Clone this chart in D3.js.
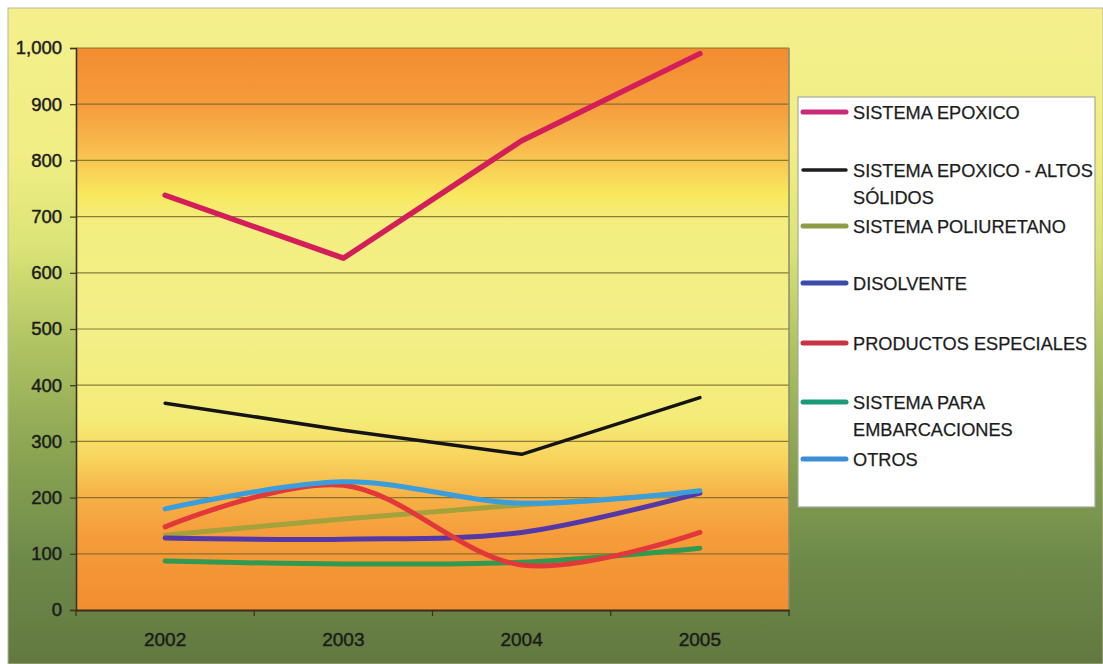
<!DOCTYPE html>
<html>
<head>
<meta charset="utf-8">
<script src="https://cdn.jsdelivr.net/npm/d3@7"></script>
<style>
  html, body { margin: 0; padding: 0; background: #ffffff; }
  svg { display: block; }
  text { font-family: "Liberation Sans", Arial, sans-serif; fill: #1c1c1c; }
</style>
</head>
<body>
<svg id="chart" width="1103" height="664"></svg>
<script>
// Years on the category axis
const years = ["2002", "2003", "2004", "2005"];
// Value axis ticks
const yTicks = [0, 100, 200, 300, 400, 500, 600, 700, 800, 900, 1000];

// Series names (legend text, line breaks as drawn)
const seriesNames = [
  ["SISTEMA EPOXICO"],
  ["SISTEMA EPOXICO - ALTOS", "SÓLIDOS"],
  ["SISTEMA POLIURETANO"],
  ["DISOLVENTE"],
  ["PRODUCTOS ESPECIALES"],
  ["SISTEMA PARA", "EMBARCACIONES"],
  ["OTROS"]
];

// Yearly values per series
const epoxico        = [738, 626, 835, 990];
const epoxicoAltos   = [368, 320, 277, 378];
const poliuretano    = [133, 162, 187, 208];
const disolvente     = [128, 126, 138, 208];
const especiales     = [148, 222, 80, 138];
const embarcaciones  = [87, 82, 85, 110];
const otros          = [180, 228, 190, 212];

const seriesValues = [epoxico, epoxicoAltos, poliuretano, disolvente, especiales, embarcaciones, otros];
const lineColors   = ["#d41e5a", "#141414", "#a3a23c", "#5438a8", "#e2383a", "#2f9a50", "#3a9ddc"];
const legendColors = ["#cc2a78", "#1c1c22", "#8e9c48", "#3c4aa8", "#c83444", "#1a9a78", "#3c8ed4"];
const lineWidths   = [5.5, 3.5, 5, 5, 5, 5, 5];
const smoothed     = [false, false, true, true, true, true, true];
// order in which the lines are painted (later ones on top)
const drawOrder    = [0, 1, 2, 3, 5, 4, 6];

const svg = d3.select("#chart");
const defs = svg.append("defs");

// Background of the whole chart: yellow at top fading into green
const bgGrad = defs.append("linearGradient").attr("id", "bgGrad")
  .attr("x1", 0).attr("y1", 0).attr("x2", 0).attr("y2", 1);
[[0, "#f4ef8c"], [0.22, "#f0ee84"], [0.36, "#dbe478"], [0.52, "#aec262"],
 [0.68, "#8aa452"], [0.84, "#6e8a4a"], [1, "#62783f"]]
  .forEach(([o, c]) => bgGrad.append("stop").attr("offset", o).attr("stop-color", c));

// Plot area: orange at top and bottom, pale yellow band in the middle
const plotGrad = defs.append("linearGradient").attr("id", "plotGrad")
  .attr("x1", 0).attr("y1", 0).attr("x2", 0).attr("y2", 1);
[[0, "#f38c30"], [0.1, "#f59c3c"], [0.18, "#f8bc4e"], [0.26, "#f8e85e"],
 [0.31, "#f4ee80"], [0.5, "#f3ef88"], [0.66, "#f4ec78"], [0.73, "#f8d45c"],
 [0.8, "#f6b046"], [0.87, "#f59c3a"], [1, "#f38e30"]]
  .forEach(([o, c]) => plotGrad.append("stop").attr("offset", o).attr("stop-color", c));

// Outer chart panel
svg.append("rect").attr("x", 8).attr("y", 8).attr("width", 1095).attr("height", 656)
  .attr("fill", "url(#bgGrad)").attr("stroke", "#b8b8a0").attr("stroke-width", 1);

const plot = { left: 76, top: 48, right: 789, bottom: 610 };

const x = d3.scaleBand().domain(years).range([plot.left, plot.right]).padding(0);
const y = d3.scaleLinear().domain([0, 1000]).range([plot.bottom, plot.top]);
const xc = d => x(d) + x.bandwidth() / 2;

svg.append("rect")
  .attr("x", plot.left).attr("y", plot.top)
  .attr("width", plot.right - plot.left).attr("height", plot.bottom - plot.top)
  .attr("fill", "url(#plotGrad)");

// Horizontal gridlines
svg.append("g").selectAll("line").data(yTicks.filter(t => t > 0)).join("line")
  .attr("x1", plot.left).attr("x2", plot.right)
  .attr("y1", d => y(d)).attr("y2", d => y(d))
  .attr("stroke", "#7c6a2c").attr("stroke-width", 1.2).attr("opacity", 0.85);

// Right border of the plot area
svg.append("line").attr("x1", plot.right).attr("x2", plot.right)
  .attr("y1", plot.top).attr("y2", plot.bottom)
  .attr("stroke", "#8a8a70").attr("stroke-width", 1.5);

const labelFont = "'Liberation Sans', Arial, sans-serif";

// Value axis
const yAxis = svg.append("g").attr("transform", `translate(${plot.left},0)`)
  .call(d3.axisLeft(y).tickValues(yTicks).tickSize(6).tickPadding(8)
    .tickFormat(d3.format(",")));
yAxis.select(".domain").attr("stroke", "#3c3420").attr("stroke-width", 1.6);
yAxis.selectAll(".tick line").attr("stroke", "#3c3420").attr("stroke-width", 1.2);
yAxis.selectAll(".tick text").attr("font-size", 18.5).attr("fill", "#1a1a1a")
  .attr("stroke", "#1a1a1a").attr("stroke-width", 0.45)
  .attr("font-family", labelFont);

// Category axis
const xAxis = svg.append("g").attr("transform", `translate(0,${plot.bottom})`)
  .call(d3.axisBottom(x).tickSize(0).tickPadding(23));
xAxis.select(".domain").attr("stroke", "#3c2c18").attr("stroke-width", 2);
xAxis.selectAll(".tick text").attr("font-size", 19).attr("fill", "#1a1a1a")
  .attr("stroke", "#1a1a1a").attr("stroke-width", 0.45)
  .attr("font-family", labelFont);
// tick marks on the category boundaries
const bounds = years.map(d => x(d)).concat([x(years[years.length - 1]) + x.bandwidth()]);
svg.append("g").selectAll("line").data(bounds).join("line")
  .attr("x1", d => d).attr("x2", d => d)
  .attr("y1", plot.bottom).attr("y2", plot.bottom + 6)
  .attr("stroke", "#3c2c18").attr("stroke-width", 1.2);

// Series lines
const linePlain = d3.line().x((d, i) => xc(years[i])).y(d => y(d));
const lineSmooth = d3.line().x((d, i) => xc(years[i])).y(d => y(d)).curve(d3.curveCatmullRom.alpha(0));

svg.append("g").selectAll("path").data(drawOrder).join("path")
  .attr("d", k => (smoothed[k] ? lineSmooth : linePlain)(seriesValues[k]))
  .attr("fill", "none")
  .attr("stroke", k => lineColors[k])
  .attr("stroke-width", k => lineWidths[k])
  .attr("stroke-linejoin", "round")
  .attr("stroke-linecap", "round");

// Legend
const legend = svg.append("g");
legend.append("rect").attr("x", 798).attr("y", 97).attr("width", 297).attr("height", 410)
  .attr("fill", "#ffffff").attr("stroke", "#a8a8a0").attr("stroke-width", 1.2);

const legendY = [112, 170, 226, 283, 343, 402, 459];
const item = legend.selectAll("g.item").data(seriesNames).join("g").attr("class", "item");
item.append("line")
  .attr("x1", 803).attr("x2", 846)
  .attr("y1", (d, i) => legendY[i]).attr("y2", (d, i) => legendY[i])
  .attr("stroke", (d, i) => legendColors[i])
  .attr("stroke-width", (d, i) => i === 1 ? 3.5 : 5)
  .attr("stroke-linecap", "round");
item.each(function (lines, i) {
  const t = d3.select(this).append("text")
    .attr("x", 853).attr("y", legendY[i] + 6.5)
    .attr("font-size", 18.2).attr("fill", "#222226")
    .attr("stroke", "#222226").attr("stroke-width", 0.25);
  lines.forEach((s, j) => t.append("tspan").attr("x", 853).attr("dy", j === 0 ? 0 : 27).text(s));
});
</script>
</body>
</html>
